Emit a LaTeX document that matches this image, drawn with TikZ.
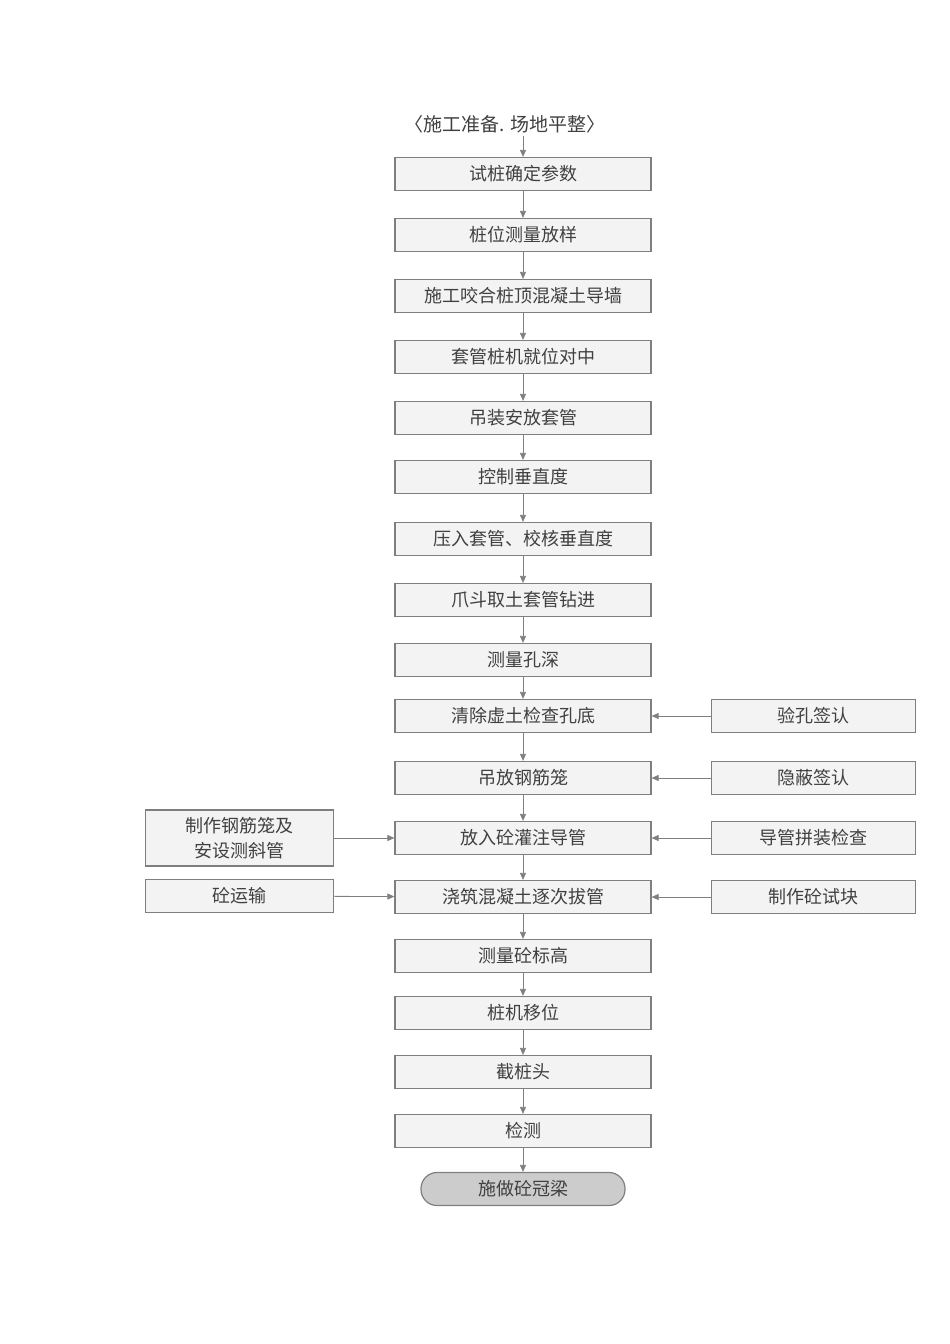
\documentclass[tikz,border=0pt]{standalone}
\usepackage{fontspec}
\setmainfont{Noto Sans CJK SC}
\usetikzlibrary{arrows.meta}
\definecolor{bfill}{HTML}{F3F3F3}
\definecolor{bline}{HTML}{7F7F7F}
\begin{document}
\begin{tikzpicture}[x=1pt,y=-1pt,
  box/.style={draw=bline,fill=bfill,line width=1.2pt,minimum height=33pt,inner sep=1pt,font=\fontsize{18}{22}\selectfont\color{black!75},align=center},
  mainbox/.style={box,minimum width=256pt},
  sidebox/.style={box,minimum width=204pt},
  leftbox/.style={box,minimum width=188pt},
  arr/.style={draw=bline,line width=0.8pt,-{Triangle[length=7pt,width=6pt]}}]
\useasboundingbox (0,0) rectangle (950,1344);
\node[font=\fontsize{19}{22}\selectfont\color{black!75}] (t0) at (505,124) {〈施工准备. 场地平整〉};
\foreach \n/\y/\t in {1/174/试桩确定参数,2/235/桩位测量放样,3/296/施工咬合桩顶混凝土导墙,4/357/套管桩机就位对中,5/418/吊装安放套管,6/477/控制垂直度,7/539/压入套管、校核垂直度,8/600/爪斗取土套管钻进,9/660/测量孔深,10/716/清除虚土检查孔底,11/778/吊放钢筋笼,12/838/放入砼灌注导管,13/897/浇筑混凝土逐次拔管,14/956/测量砼标高,15/1013/桩机移位,16/1072/截桩头,17/1131/检测}
  \node[mainbox] (m\n) at (523,\y) {\t};
\node[box,minimum width=204pt,rounded corners=16pt,fill=black!20] (m18) at (523,1189) {施做砼冠梁};
\coordinate (s0) at (523,136);
\draw[arr] (s0) -- (m1.north);
\foreach \a/\b in {1/2,2/3,3/4,4/5,5/6,6/7,7/8,8/9,9/10,10/11,11/12,12/13,13/14,14/15,15/16,16/17,17/18}
  \draw[arr] (m\a) -- (m\b);
\node[sidebox] (r1) at (813.5,716) {验孔签认};
\node[sidebox] (r2) at (813.5,778) {隐蔽签认};
\node[sidebox] (r3) at (813.5,838) {导管拼装检查};
\node[sidebox] (r4) at (813.5,897) {制作砼试块};
\draw[arr] (r1) -- (m10);
\draw[arr] (r2) -- (m11);
\draw[arr] (r3) -- (m12);
\draw[arr] (r4) -- (m13);
\node[leftbox,minimum height=56pt,font=\fontsize{18}{25}\selectfont\color{black!75}] (l1) at (239.5,838) {制作钢筋笼及\\安设测斜管};
\node[leftbox] (l2) at (239.5,896) {砼运输};
\draw[arr] (l1) -- (m12);
\draw[arr] (l2) -- (m13);
\end{tikzpicture}
\end{document}
